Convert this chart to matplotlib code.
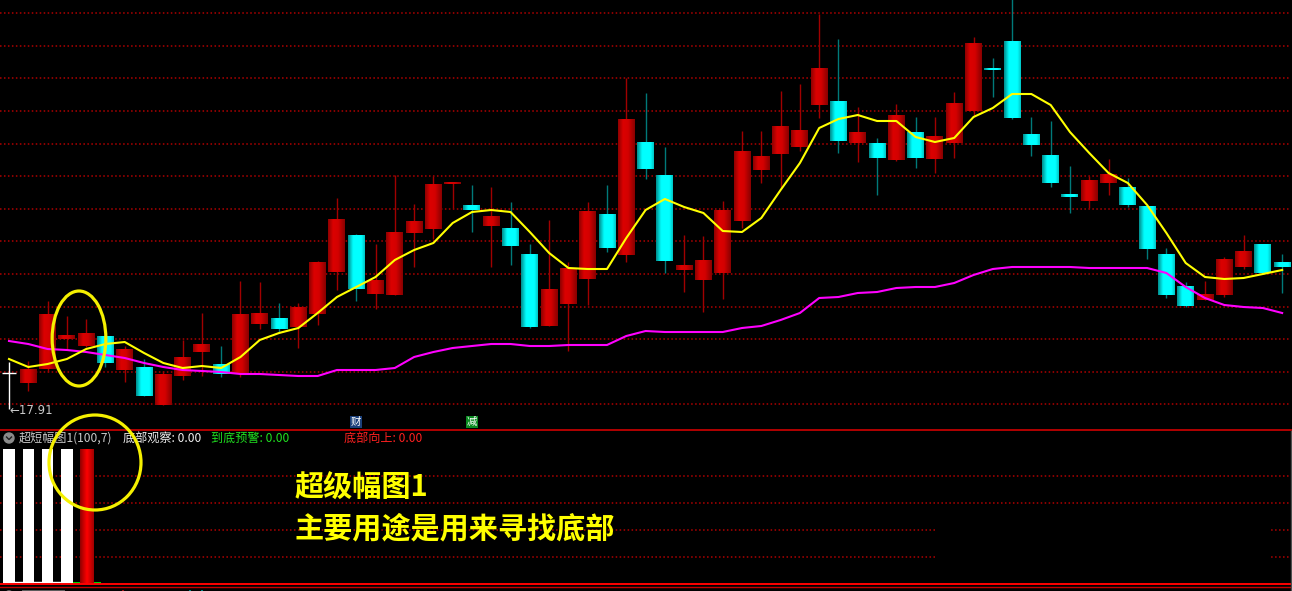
import numpy as np
import matplotlib.pyplot as plt
from matplotlib.patches import Ellipse, Rectangle, Circle
from matplotlib.colors import LinearSegmentedColormap

plt.rcParams['font.family'] = ['Noto Sans CJK SC', 'DejaVu Sans']

# K线数据 (序号 -1 .. 65)
idx = np.arange(-1, 66)
opens = [18.27, 18.17, 18.31, 18.61, 18.54, 18.64, 18.30, 18.32, 17.95, 18.24, 18.48,
         18.36, 18.27, 18.76, 18.82, 18.73, 18.86, 19.28, 19.65, 19.06, 19.05, 19.67,
         19.71, 20.16, 19.94, 19.74, 19.72, 19.46, 18.74, 18.96, 19.21, 19.85, 19.45,
         20.58, 20.25, 19.30, 19.20, 19.27, 19.79, 20.30, 20.46, 20.53, 20.95, 20.99,
         20.57, 20.57, 20.40, 20.68, 20.41, 20.57, 20.89, 21.32, 21.59, 20.66, 20.45,
         20.06, 19.99, 20.17, 20.12, 19.94, 19.46, 19.14, 19.00, 19.05, 19.33, 19.55, 19.37]
closes = [18.27, 18.31, 18.86, 18.64, 18.66, 18.37, 18.51, 18.04, 18.25, 18.42, 18.56,
          18.26, 18.86, 18.87, 18.71, 18.93, 19.37, 19.81, 19.11, 19.19, 19.68, 19.79,
          20.16, 20.18, 19.90, 19.84, 19.54, 18.73, 19.11, 19.32, 19.89, 19.52, 20.80,
          20.31, 19.39, 19.35, 19.39, 19.90, 20.49, 20.44, 20.74, 20.70, 21.32, 20.59,
          20.68, 20.42, 20.84, 20.42, 20.64, 20.97, 21.57, 21.30, 20.82, 20.55, 20.17,
          20.03, 20.19, 20.26, 19.95, 19.51, 19.05, 18.94, 19.06, 19.41, 19.48, 19.27, 19.33]
highs = [18.38, 18.39, 18.99, 18.84, 18.81, 18.64, 18.54, 18.41, 18.29, 18.60, 18.87,
         18.54, 19.19, 19.18, 18.97, 18.97, 19.39, 20.02, 19.66, 19.56, 20.25, 19.96,
         20.24, 20.18, 20.15, 20.13, 19.98, 19.56, 19.80, 19.38, 19.98, 20.15, 21.22,
         21.07, 20.53, 19.65, 19.64, 19.99, 20.69, 20.69, 21.09, 21.16, 21.86, 21.61,
         20.93, 20.62, 20.96, 20.83, 20.83, 21.08, 21.63, 21.42, 22.02, 20.83, 20.79,
         20.34, 20.24, 20.41, 20.22, 19.94, 19.52, 19.18, 19.19, 19.43, 19.65, 19.55, 19.46]
lows = [17.91, 18.09, 18.28, 18.51, 18.53, 18.33, 18.18, 18.04, 17.95, 18.20, 18.24,
        18.23, 18.23, 18.71, 18.68, 18.52, 18.75, 19.10, 18.99, 18.91, 19.05, 19.33,
        19.61, 19.92, 19.68, 19.33, 19.35, 18.72, 18.74, 18.49, 18.95, 19.48, 19.38,
        20.21, 19.27, 19.08, 18.88, 19.01, 19.72, 20.17, 20.12, 20.49, 20.82, 20.47,
        20.38, 20.05, 20.39, 20.32, 20.27, 20.42, 20.83, 21.03, 20.81, 20.44, 20.13,
        19.87, 19.92, 20.05, 19.93, 19.41, 19.02, 18.93, 19.00, 19.03, 19.31, 19.27, 19.07]

# 均线
ma_short = [18.41, 18.33, 18.36, 18.41, 18.51, 18.56, 18.58, 18.47, 18.37, 18.32, 18.34,
            18.32, 18.43, 18.60, 18.67, 18.72, 18.87, 19.03, 19.13, 19.23, 19.40, 19.50,
            19.57, 19.77, 19.88, 19.90, 19.88, 19.68, 19.47, 19.32, 19.31, 19.31, 19.62,
            19.90, 20.01, 19.93, 19.87, 19.69, 19.68, 19.82, 20.10, 20.37, 20.72, 20.81,
            20.85, 20.79, 20.79, 20.63, 20.58, 20.62, 20.83, 20.92, 21.06, 21.06, 20.95,
            20.68, 20.47, 20.27, 20.17, 19.95, 19.67, 19.37, 19.23, 19.21, 19.22, 19.26, 19.30]
ma_long = [18.59, 18.56, 18.51, 18.50, 18.48, 18.45, 18.42, 18.37, 18.33, 18.30, 18.29,
           18.28, 18.26, 18.26, 18.25, 18.24, 18.24, 18.30, 18.30, 18.30, 18.32, 18.43,
           18.48, 18.52, 18.54, 18.56, 18.56, 18.54, 18.54, 18.55, 18.55, 18.55, 18.64,
           18.69, 18.68, 18.68, 18.68, 18.68, 18.72, 18.74, 18.80, 18.87, 19.02, 19.03,
           19.07, 19.08, 19.12, 19.13, 19.13, 19.17, 19.25, 19.31, 19.33, 19.33, 19.33,
           19.33, 19.32, 19.32, 19.32, 19.32, 19.27, 19.13, 19.02, 18.95, 18.93, 18.92, 18.87]

# 副图: 超短幅图1
sub_idx = [-1, 0, 1, 2, 3]
sub_vals = [100, 100, 100, 100, 100]
sub_cols = ['white', 'white', 'white', 'white', 'red']
sub_title = '超短幅图1(100,7)'
sub_labels = ['底部观察: 0.00', '到底预警: 0.00', '底部向上: 0.00']
sub_label_colors = ['#f0f0f0', '#20e020', '#ff2020']
note_lines = ['超级幅图1', '主要用途是用来寻找底部']

W, H = 1292, 591
fig = plt.figure(figsize=(W / 100, H / 100), dpi=100, facecolor='black')

x_left = -28.3 / 19.29
x_right = (1290 - 28.3) / 19.29

ax = fig.add_axes([0, 1 - 428 / H, 1290 / W, 428 / H])
ax2 = fig.add_axes([0, (H - 584.3) / H, 1290 / W, 154 / H])
for a in (ax, ax2):
    a.set_facecolor('black')
    a.set_xticks([])
    a.set_yticks([])
    for s in a.spines.values():
        s.set_visible(False)

red_cmap = LinearSegmentedColormap.from_list('r', [(0, '#8e0000'), (0.3, '#dc0000'),
                                                    (0.6, '#d40000'), (1, '#880000')])
cyan_cmap = LinearSegmentedColormap.from_list('c', [(0, '#008c8c'), (0.3, '#00ffff'),
                                                     (0.8, '#00ffff'), (1, '#00c4c4')])
bar_cmap = LinearSegmentedColormap.from_list('b', [(0, '#900000'), (0.5, '#ff0000'), (1, '#a00000')])
grad = np.linspace(0, 1, 64).reshape(1, -1)

# 网格
for i in range(13):
    ax.axhline(22 - (13.3 + 32.58 * i) / 100, color='#b00000', lw=1.1,
               linestyle=(0, (1, 1.6)), zorder=0)
for v in [20, 40, 60, 80]:
    ax2.axhline(v, color='#b00000', lw=1.1, linestyle=(0, (1, 1.6)), zorder=0)

hw = 0.44
for i, o, h, l, c in zip(idx, opens, highs, lows, closes):
    if c > o:
        wick, cmap = '#a00000', red_cmap
    elif c < o:
        wick, cmap = '#007a7a', cyan_cmap
    else:
        wick, cmap = 'white', None
    ax.vlines(i, l, h, color=wick, lw=1, zorder=2)
    if cmap is None:
        ax.hlines(o, i - 0.37, i + 0.37, color='white', lw=1, zorder=3)
        continue
    lo, hi = min(o, c), max(o, c)
    if hi - lo < 0.02:
        hi = lo + 0.02
    ax.imshow(grad, cmap=cmap, extent=[i - hw, i + hw, lo, hi], aspect='auto',
              interpolation='bilinear', zorder=3)

ax.plot(idx, ma_long, color='#ff00ff', lw=1.5, zorder=4)
ax.plot(idx, ma_short, color='#ffff00', lw=1.5, zorder=5)

low_min = min(lows)
ax.text(-1, low_min - 0.01, f'←{low_min:.2f}', color='#c8c8c8', fontsize=8.5,
        ha='left', va='center', family=['DejaVu Sans'])

# 信息地雷
ax.text(17, 17.78, '财', color='white', fontsize=7.5, ha='center', va='center',
        bbox=dict(facecolor='#1a3f7a', edgecolor='none', pad=0.6), zorder=6)
ax.text(23, 17.78, '减', color='white', fontsize=7.5, ha='center', va='center',
        bbox=dict(facecolor='#0a8a20', edgecolor='none', pad=0.6), zorder=6)

ax.set_xlim(x_left, x_right)
ax.set_ylim(22 - 428 / 100, 22.0)

# 副图柱子
for i, v, col in zip(sub_idx, sub_vals, sub_cols):
    if col == 'white':
        ax2.bar(i, v, width=0.59, bottom=0, color='white', zorder=3)
    else:
        ax2.imshow(grad, cmap=bar_cmap, extent=[i - 0.34, i + 0.34, 0, v], aspect='auto',
                   interpolation='bilinear', zorder=3)
ax2.hlines(1.5, -1, 2, color='white', lw=1, zorder=2)
ax2.hlines(0.9, 2.2, 3.75, color='#00ff00', lw=1.2, zorder=2)
ax2.hlines(0.4, -1, 3.75, color='#ff0000', lw=1, zorder=2)
ax2.set_xlim(x_left, x_right)
ax2.set_ylim(0, 154 * 100 / 135)

# 覆盖层 (像素坐标)
ov = fig.add_axes([0, 0, 1, 1])
ov.set_xlim(0, W)
ov.set_ylim(H, 0)
ov.axis('off')
ov.patch.set_alpha(0)

ov.add_patch(Rectangle((936, 520), 334, 50, facecolor='black', edgecolor='none', zorder=1))
ov.plot([0, W], [430.3, 430.3], color='#d00000', lw=1.2, zorder=2)
ov.plot([0, W], [584.3, 584.3], color='#ff0000', lw=1.4, zorder=2)
ov.plot([0, W], [587.3, 587.3], color='#c00000', lw=1.0, zorder=2)
ov.plot([1290.7, 1290.7], [431, H], color='#505050', lw=1.0, zorder=2)

# 副图标题
ov.add_patch(Circle((9, 438), 5, color='#8a8a8a', zorder=3))
ov.plot([6.5, 9, 11.5], [437, 439.5, 437], color='#202020', lw=1.0, zorder=4)
ov.text(19, 438, sub_title, color='#c8c8c8', fontsize=8.7, va='center', ha='left', zorder=4)
for xp, lab, col in zip([123, 211, 344], sub_labels, sub_label_colors):
    ov.text(xp, 438, lab, color=col, fontsize=8.7, va='center', ha='left', zorder=4)

# 下一副图标题 (仅露出顶部)
ov.add_patch(Circle((9, 596), 5, color='#8a8a8a', zorder=3))
for x0, x1, col in [(22, 65, '#9a9a9a'), (122, 124, '#ff2020'), (189, 191, '#00e0e0'), (201, 203, '#00e0e0')]:
    ov.add_patch(Rectangle((x0, 589.5), x1 - x0, 2, facecolor=col, edgecolor='none', alpha=0.6, zorder=3))

# 说明文字
ov.text(295, 488, note_lines[0], color='#ffff00', fontsize=21, fontweight='bold',
        va='center', ha='left', zorder=4)
ov.text(295, 528, note_lines[1], color='#ffff00', fontsize=21, fontweight='bold',
        va='center', ha='left', zorder=4)

# 标注圈
ov.add_patch(Ellipse((79, 338.5), 53.7, 95, fill=False, edgecolor='#f5f000', lw=2.3, zorder=6))
ov.add_patch(Ellipse((95, 462.5), 92, 95, fill=False, edgecolor='#f5f000', lw=2.3, zorder=6))

fig.savefig('out.png', dpi=100, facecolor='black')
